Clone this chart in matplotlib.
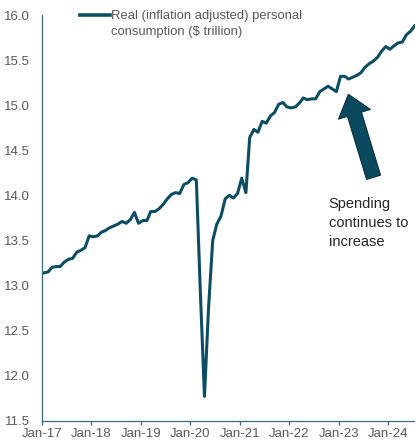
import numpy as np
import pandas as pd
import matplotlib
matplotlib.use('Agg')
import matplotlib.pyplot as plt
import matplotlib.dates as mdates
from matplotlib.lines import Line2D

plt.rcParams['font.family'] = ['Liberation Sans', 'DejaVu Sans']

# monthly real PCE, $ trillion, Jan-2017 .. Jul-2024
months = pd.date_range('2017-01-01', periods=91, freq='MS') + pd.Timedelta(days=14)
pce = [
    # 2017
    13.14, 13.15, 13.20, 13.21, 13.21, 13.26, 13.29, 13.30, 13.37, 13.39, 13.42, 13.55,
    # 2018
    13.54, 13.55, 13.59, 13.61, 13.64, 13.66, 13.68, 13.71, 13.69, 13.73, 13.81, 13.69,
    # 2019
    13.72, 13.72, 13.82, 13.82, 13.85, 13.90, 13.96, 14.01, 14.03, 14.02, 14.12, 14.14,
    # 2020
    14.19, 14.17, 12.95, 11.77, 12.75, 13.50, 13.68, 13.77, 13.96, 14.00, 13.97, 14.02,
    # 2021
    14.19, 14.03, 14.64, 14.73, 14.70, 14.82, 14.80, 14.88, 14.92, 15.01, 15.03, 14.98,
    # 2022
    14.97, 14.98, 15.02, 15.08, 15.06, 15.07, 15.07, 15.15, 15.18, 15.21, 15.18, 15.15,
    # 2023
    15.32, 15.32, 15.29, 15.31, 15.33, 15.36, 15.42, 15.46, 15.49, 15.53, 15.60, 15.65,
    # 2024
    15.62, 15.66, 15.69, 15.70, 15.78, 15.82, 15.88,
]
yticks = [11.5, 12.0, 12.5, 13.0, 13.5, 14.0, 14.5, 15.0, 15.5, 16.0]
legend_label = 'Real (inflation adjusted) personal\nconsumption ($ trillion)'
note = 'Spending\ncontinues to\nincrease'

line_col = '#0d4d61'
spine_col = '#3d6a78'
grey = '#595959'

W, H = 415, 445
fig = plt.figure(figsize=(W / 100, H / 100), dpi=100)
ax = fig.add_axes([42/W, 24.3/H, 1 - 42/W, (420.7 - 15)/H])

ax.plot(months, pce, color=line_col, lw=2.2, solid_joinstyle='round')

ax.set_ylim(11.5, 16.0)
ax.set_yticks(yticks)
ax.set_yticklabels(['%.1f' % v for v in yticks])
ax.set_xlim(pd.Timestamp('2017-01-01'), pd.Timestamp('2024-07-18'))
ax.xaxis.set_major_locator(mdates.YearLocator(1, month=1, day=1))
ax.xaxis.set_major_formatter(mdates.DateFormatter('%b-%y'))

for s in ['top', 'right']:
    ax.spines[s].set_visible(False)
for s in ['left', 'bottom']:
    ax.spines[s].set_color(spine_col)
    ax.spines[s].set_linewidth(0.9)

ax.tick_params(axis='y', length=0, pad=9, labelsize=9.5, labelcolor=grey)
ax.tick_params(axis='x', length=3, width=0.9, color=spine_col, direction='out',
               pad=2, labelsize=9.5, labelcolor=grey)

# legend key: short line next to the first line of the label
fig.add_artist(Line2D([80/W, 110/W], [1 - 15/H, 1 - 15/H], color=line_col, lw=2.6,
                      transform=fig.transFigure))
fig.text(111/W, 1 - 10/H, legend_label, ha='left', va='top', fontsize=9.4,
         color=grey, linespacing=1.4, transform=fig.transFigure)

ax.annotate('', xy=(pd.Timestamp('2023-03-14'), 15.12),
            xytext=(pd.Timestamp('2023-09-16'), 14.20),
            arrowprops=dict(arrowstyle='simple,head_length=1.5,head_width=2.4,tail_width=1.05',
                            mutation_scale=10, fc='#0b4a5e', ec='#0a2f3a', lw=0.8,
                            shrinkA=0, shrinkB=0))

ax.text(pd.Timestamp('2022-10-20'), 13.98, note, ha='left', va='top',
        fontsize=10.5, color='#262626', linespacing=1.45)

fig.savefig('out.png', dpi=100)
